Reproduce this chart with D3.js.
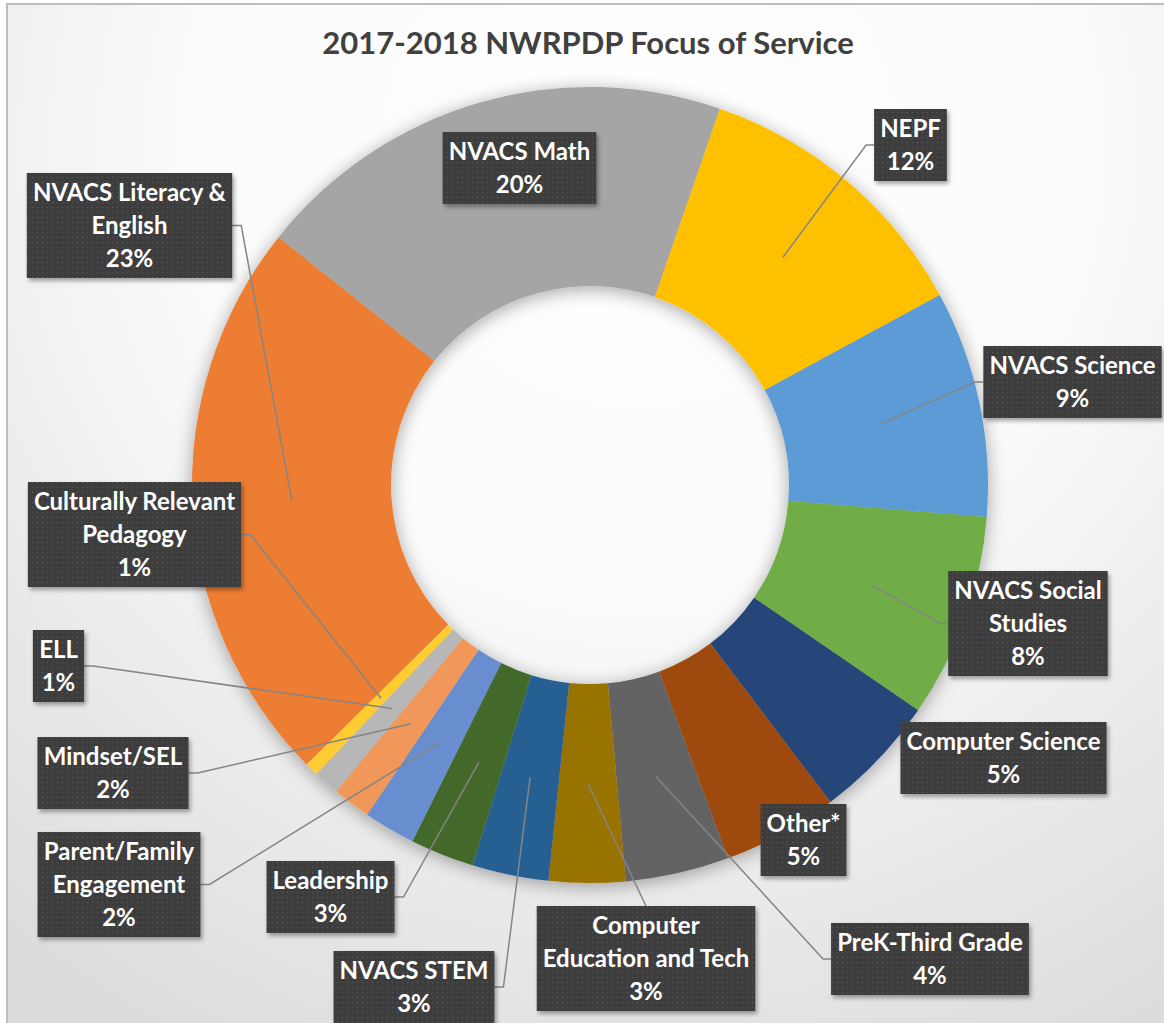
<!DOCTYPE html>
<html><head><meta charset="utf-8">
<script src="https://cdn.jsdelivr.net/npm/d3@7"></script>
<style>
html,body{margin:0;padding:0;background:#fff;}
svg{display:block;}
text{font-family:Lato,"Open Sans",sans-serif;font-weight:700;}
</style></head><body>
<svg id="chart" width="1164" height="1023"></svg>
<script>
// ---- data ----
const title = "2017-2018 NWRPDP Focus of Service";
const categories = ["NVACS Literacy & English","NVACS Math","NEPF","NVACS Science","NVACS Social Studies",
  "Computer Science","Other*","PreK-Third Grade","Computer Education and Tech","NVACS STEM","Leadership",
  "Parent/Family Engagement","Mindset/SEL","ELL","Culturally Relevant Pedagogy"];
const categoryLines = [["NVACS Literacy &","English"],["NVACS Math"],["NEPF"],["NVACS Science"],["NVACS Social","Studies"],
  ["Computer Science"],["Other*"],["PreK-Third Grade"],["Computer","Education and Tech"],["NVACS STEM"],["Leadership"],
  ["Parent/Family","Engagement"],["Mindset/SEL"],["ELL"],["Culturally Relevant","Pedagogy"]];
const values = [23.1,19.6,11.8,9.2,8.3,5.1,4.7,4.2,3.1,3.1,2.6,2.1,1.55,1.05,0.55];
const colors = ["#ED7D31","#A5A5A5","#FFC000","#5B9BD5","#70AD47","#264478","#9E480E","#636363",
  "#997300","#255E91","#43682B","#698ED0","#F1975A","#B7B7B7","#FFCD33"];

// ---- layout ----
const W = 1164, H = 1023;
const cx = 590, cy = 485, outerR = 398, innerR = 199;
const firstSliceDeg = 225.4;
const fontSize = 24, lineH = 33;
// label box centre-x, top-y and leader side
const labelPos = [
  {x:129.5,y:173,side:"right"},{x:519.5,y:132,side:"none"},{x:910.5,y:109,side:"left"},
  {x:1072.5,y:346,side:"left"},{x:1028,y:571,side:"left"},{x:1003.5,y:722,side:"none"},
  {x:803.5,y:804,side:"none"},{x:930,y:923,side:"left"},{x:646,y:906,side:"top"},
  {x:414,y:951,side:"right"},{x:330.5,y:861,side:"right"},{x:119,y:832,side:"right"},
  {x:113,y:737,side:"right"},{x:58.5,y:630,side:"right"},{x:134.5,y:482,side:"right"}];

const svg = d3.select("#chart");
const defs = svg.append("defs");
const bg = defs.append("radialGradient").attr("id","bg").attr("gradientUnits","userSpaceOnUse")
  .attr("cx",640).attr("cy",150).attr("r",1000);
bg.append("stop").attr("offset",0).attr("stop-color","#ffffff");
bg.append("stop").attr("offset",0.45).attr("stop-color","#fbfbfb");
bg.append("stop").attr("offset",1).attr("stop-color","#dcdcdc");

const pat = defs.append("pattern").attr("id","dots").attr("patternUnits","userSpaceOnUse")
  .attr("width",5).attr("height",5);
pat.append("rect").attr("width",5).attr("height",5).attr("fill","#3d3d3d");
pat.append("circle").attr("cx",2.5).attr("cy",2.5).attr("r",0.7).attr("fill","#585858");

const sh = defs.append("filter").attr("id","donutShadow").attr("x","-20%").attr("y","-20%").attr("width","140%").attr("height","140%");
sh.append("feDropShadow").attr("dx",0).attr("dy",3).attr("stdDeviation",9).attr("flood-color","#000").attr("flood-opacity",0.35);
const bsh = defs.append("filter").attr("id","boxShadow").attr("x","-20%").attr("y","-20%").attr("width","140%").attr("height","150%");
bsh.append("feDropShadow").attr("dx",2).attr("dy",3).attr("stdDeviation",2).attr("flood-color","#000").attr("flood-opacity",0.35);

// background & frame
svg.append("rect").attr("x",7).attr("y",4).attr("width",W+20).attr("height",H+20)
  .attr("fill","url(#bg)").attr("stroke","#bdbdbd").attr("stroke-width",2);

svg.append("text").attr("x",588).attr("y",54).attr("text-anchor","middle")
  .attr("fill","#404040").attr("font-size",31).text(title);

const total = d3.sum(values);
const data = categories.map((c,i)=>({name:c, lines:categoryLines[i], value:values[i], color:colors[i], pos:labelPos[i]}));
const start = firstSliceDeg*Math.PI/180;
const pie = d3.pie().value(d=>d.value).sort(null).startAngle(start).endAngle(start+2*Math.PI);
const arc = d3.arc().innerRadius(innerR).outerRadius(outerR);
const arcs = pie(data);

const g = svg.append("g").attr("transform",`translate(${cx},${cy})`);
g.append("g").attr("filter","url(#donutShadow)")
  .selectAll("path").data(arcs).join("path")
  .attr("d",arc).attr("fill",d=>d.data.color);

// labels
const lg = svg.append("g");
const lines = lg.append("g");
const boxes = lg.append("g");
arcs.forEach(a=>{
  const d = a.data, p = d.pos;
  const txt = [...d.lines, Math.round(d.value/total*100)+"%"];
  const n = txt.length;
  const h = lineH*n + 6;
  const bg = boxes.append("g");
  const rect = bg.append("rect").attr("fill","url(#dots)").attr("filter","url(#boxShadow)");
  const t = bg.append("text").attr("text-anchor","middle").attr("fill","#fff").attr("font-size",fontSize);
  txt.forEach((s,i)=>{
    t.append("tspan").attr("x",p.x).attr("y",p.y + h/2 + (i-(n-1)/2)*lineH + fontSize*0.36).text(s);
  });
  const bw = t.node().getBBox().width + 12;
  const x0 = p.x - bw/2, x1 = p.x + bw/2;
  rect.attr("x",x0).attr("y",p.y).attr("width",bw).attr("height",h);
  const [ccx,ccy] = arc.centroid(a);
  const tx = cx+ccx, ty = cy+ccy, my = p.y + h/2;
  let path = null;
  if (p.side==="left") path = `M${x0},${my}H${x0-8}L${tx},${ty}`;
  else if (p.side==="right") path = `M${x1},${my}H${x1+9}L${tx},${ty}`;
  else if (p.side==="top") path = `M${p.x},${p.y}L${tx},${ty}`;
  if (path) lines.append("path").attr("d",path).attr("fill","none").attr("stroke","#858585").attr("stroke-width",1.5);
});
</script>
</body></html>
